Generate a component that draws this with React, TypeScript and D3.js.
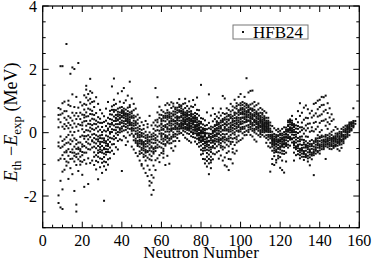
import React from "react";
import * as d3 from "d3";

// Each row: [neutron number, residuals (MeV)...]
const residualsN8to29: number[][] = [
  [8, 0.78, 0.56, -1.98, -2.22, -0.87, 0.17, -0.43],
  [9, 0.74, -1.52, -2.36, -0.48, 0.33, 2.1, -0.12],
  [10, 2.1, -2.41, -1.79, -1.23, 0.61, -0.26, 0.93, -0.71],
  [11, 0.47, -0.83, 0.12, -1.17, 0.98, -0.38, -0.62, 0.27],
  [12, 2.8, 0.21, -0.33, -0.91, 0.68, -1.04, 0.41, -0.57],
  [13, 0.88, -0.07, -0.52, 0.14, -0.73, 1.01, -1.46, 0.31, -0.94],
  [14, 1.86, -0.22, 0.03, -0.61, 0.47, -1.12, 0.84, -0.36],
  [15, 2.06, 1.21, -0.27, 0.16, -0.82, -0.53, 0.63, -1.31, -0.08],
  [16, 2.01, 0.54, -0.63, -0.44, 0.02, -1.84, 0.29, -0.91, -0.18],
  [17, -2.49, -2.27, 0.62, -0.68, -0.51, 0.19, -1.02, 1.13, -0.23, -0.77],
  [18, 2.2, 0.79, -0.66, -0.31, -1.21, 0.52, 0.06, -0.84, -0.47],
  [19, -0.52, -0.76, 0.43, 0.96, -0.13, -1.01, 0.24, -0.58, -0.9],
  [20, -0.09, 0.32, -0.92, 0.86, -0.61, 0.11, 0.57, -1.33, -0.37],
  [21, 1.18, 0.73, -0.19, 0.36, -1.71, -0.42, 0.02, 0.91, -0.86, 0.48],
  [22, 1.48, 1.36, 0.88, 0.51, -0.29, 0.22, -0.98, 0.64, -0.11, -0.63, 1.11],
  [23, 1.22, 0.76, 0.28, -0.52, 0.07, -1.62, 1.02, -0.21, -0.34],
  [24, 1.7, 1.31, 0.92, 0.38, 0.16, -0.37, -0.14, 0.59, -0.96, 1.07, 0.04],
  [25, 1.26, 0.69, 0.24, -0.06, -0.47, 0.44, -0.88, 0.97, -0.27],
  [26, 0.99, 0.56, 0.09, -0.31, -0.62, 0.28, -0.17, 0.81, -1.02, -0.44],
  [27, 1.12, 0.38, -0.21, -0.49, 0.14, -0.71, 0.62, -1.16, -0.08],
  [28, 0.91, 0.19, -0.12, -0.42, -0.76, 0.49, -0.93, -0.56, 0.04, -1.47, -0.27],
  [29, 0.72, 0.31, -0.29, -0.61, -0.81, 0.09, -0.46, -1.09, 0.44, -0.17],
];

const residualsN30to57: number[][] = [
  [30, -0.83, -0.42, 0.61, -0.07, -0.29, -1.27, 0.18, -0.56, -0.95, 0.02],
  [31, -2.15, 0.34, -0.18, -0.66, -0.77, 0.52, -0.31, -1.06, 0.07, -0.48],
  [32, 0.76, 0.21, -0.27, -0.41, -0.69, 0.38, -1.17, -0.09, -0.93, -0.52],
  [33, 0.47, 0.08, -0.36, -0.61, 0.29, -0.42, 0.97, -1.01, -0.22, -0.84],
  [34, 0.69, 0.27, -0.03, -0.47, 0.19, -0.81, 0.58, -0.29, -0.62],
  [35, 1.46, 0.83, 0.26, -0.18, 0.41, -0.57, 0.11, 0.72, -0.37],
  [36, 1.71, 1.04, 0.66, 0.23, -0.11, 0.09, -0.36, 0.51, -0.67, 0.87],
  [37, 0.91, 0.44, 0.17, -0.17, 0.37, 0.71, -0.02, -0.46, 0.56],
  [38, 1.24, 0.76, 0.39, 0.02, 0.27, -0.26, 0.52, -0.07, -0.53, 0.66],
  [39, 0.98, 0.64, 0.33, 0.14, 0.48, 0.01, -0.21, 0.79, 0.44],
  [40, 1.31, 0.81, 0.67, 0.49, 0.19, 0.53, 0.13, -0.24, 0.71, -1.21, 0.31],
  [41, 1.41, 0.94, 0.62, 0.54, 0.29, 0.07, 0.57, -0.11, 0.36, 0.76],
  [42, 1.02, 0.73, 0.51, 0.37, 0.09, 0.44, -0.16, 0.61, -0.39, 0.27],
  [43, 1.17, 0.79, 0.46, 0.22, 0.41, 0.01, 0.68, -0.28, 0.31, 0.53],
  [44, 1.61, 0.87, 0.64, 0.36, 0.24, 0.49, -0.08, 0.27, 0.81, 0.42],
  [45, 1.08, 0.67, 0.47, 0.16, -0.03, 0.31, -0.44, 0.12, 0.61],
  [46, 0.91, 0.54, 0.22, 0.07, -0.24, 0.38, -0.53, 0.13, -0.09, 0.71],
  [47, 0.76, 0.36, 0.14, -0.19, -0.32, 0.24, -0.04, -0.64, 0.51],
  [48, 0.57, 0.29, -0.02, -0.26, -0.42, 0.07, -0.14, -0.74, -0.33, 0.41],
  [49, 0.47, 0.12, -0.07, -0.34, -0.59, 0.02, -0.22, -0.88, -0.44, -0.67],
  [50, 0.33, 0.09, -0.24, -0.37, -0.64, -0.27, -0.01, -0.99, -0.12, -1.04, -0.48],
  [51, 0.24, -0.03, -0.29, -0.42, -0.69, -0.31, 0.12, -1.13, -0.77, -0.56],
  [52, 0.37, 0.03, -0.26, -0.54, -0.73, -0.17, -0.44, -0.88, -1.27, -0.63],
  [53, 0.17, -0.14, -0.33, -0.58, -0.79, -0.21, -1.04, -1.37, 0.27, -0.61],
  [54, 0.53, 0.01, -0.24, -0.49, -0.56, -0.84, -1.17, -1.53, -0.28, -1.67],
  [55, 0.23, -0.06, -0.31, -0.59, -0.87, -1.34, -1.58, -1.96, -0.74, -0.43],
  [56, 0.32, -0.02, -0.21, -0.49, -0.66, -1.04, -1.42, -1.81, -0.11, -0.61],
  [57, 1.41, 0.39, 0.06, -0.17, -0.44, -0.58, -0.87, -1.18, 0.23, -0.32],
];

const residualsN58to86: number[][] = [
  [58, 1.12, 0.41, 0.33, -0.12, -0.38, -0.47, -0.81, 0.19, -0.24, 0.08, 0.64],
  [59, 0.82, 0.57, 0.06, -0.03, -0.29, -0.71, 0.22, 0.47, -0.93, -0.44],
  [60, 0.71, 0.43, 0.16, -0.21, -0.33, -0.64, 0.29, -0.13, 0.56, -0.02, 0.09],
  [61, 0.66, 0.12, -0.04, -0.19, -0.51, 0.21, -0.36, -0.79, 0.38, -0.58, 0.47],
  [62, 0.87, 0.53, 0.24, -0.08, -0.22, 0.36, -0.41, 0.61, -1.02, -0.14, 0.03],
  [63, 0.63, 0.49, 0.17, -0.11, -0.31, 0.42, -0.28, 0.71, -0.73, 0.04, 0.93],
  [64, 0.88, 0.47, 0.36, 0.23, -0.18, 0.52, -0.34, 0.64, -0.98, 0.11, -0.06],
  [65, 0.96, 0.51, 0.29, 0.06, -0.13, 0.44, -0.19, 0.78, -0.49, 0.37, 0.14],
  [66, 0.92, 0.67, 0.54, 0.12, -0.07, 0.41, -0.27, 0.83, -0.57, 0.26, 0.01],
  [67, 0.79, 0.66, 0.37, 0.29, -0.04, 0.58, -0.12, 0.21, -0.43, 0.74, 0.11],
  [68, 0.94, 0.63, 0.44, 0.39, 0.04, 0.71, -0.17, 0.31, -0.06, 0.16, 0.52],
  [69, 1.06, 0.81, 0.47, 0.27, 0.19, 0.66, -0.03, 0.38, -0.26, 0.12, 0.88],
  [70, 0.86, 0.77, 0.61, 0.31, 0.27, 0.69, -0.01, 0.21, 0.49, 0.84, 0.14],
  [71, 0.91, 0.59, 0.54, 0.28, 0.13, 0.62, 0.17, 0.36, -0.07, 0.46, 0.24, 0.73],
  [72, 1.07, 0.78, 0.49, 0.42, 0.31, 0.56, 0.03, 0.37, -0.16, 0.18, 0.64, 0.93],
  [73, 0.84, 0.53, 0.51, 0.23, 0.14, 0.58, -0.02, 0.42, -0.21, 0.27, 0.69, 0.09],
  [74, 0.99, 0.66, 0.47, 0.33, 0.12, 0.39, -0.04, 0.24, -0.26, 0.29, 0.07, 0.76],
  [75, 0.83, 0.61, 0.43, 0.19, 0.04, 0.51, -0.11, 0.36, -0.31, 0.13, 0.68, 0.21],
  [76, 1.03, 0.58, 0.39, 0.37, 0.09, 0.32, -0.14, 0.26, 0.01, 0.49, 0.81],
  [77, 0.88, 0.44, 0.38, 0.16, 0.11, 0.34, -0.16, 0.06, -0.28, 0.47, 0.62],
  [78, 1.11, 0.59, 0.26, 0.19, -0.04, 0.21, -0.19, 0.09, -0.36, 0.41, 0.72, 0.47],
  [79, 0.71, 0.29, 0.24, -0.01, -0.09, 0.12, -0.31, -0.06, -0.44, 0.54, 0.17],
  [80, 1.51, 0.46, 0.29, 0.06, -0.11, 0.02, -0.24, -0.29, -0.54, 0.34, -0.16, -0.69],
  [81, 0.44, 0.14, 0.09, -0.16, -0.21, -0.02, -0.36, -0.49, -0.66, 0.26, -0.83],
  [82, 0.39, 0.22, -0.01, -0.09, -0.29, -0.12, -0.41, -0.56, -0.84, -0.97, 0.07, -0.21],
  [83, 0.64, 0.24, 0.11, -0.16, -0.19, -0.27, -0.54, -0.64, -0.89, -1.07, -0.43],
  [84, 1.21, 0.31, 0.14, -0.09, -0.14, -0.39, -0.56, -0.83, -0.97, -1.31, -0.26],
  [85, 0.54, 0.19, 0.11, -0.13, -0.24, -0.46, -0.61, -0.94, -1.12, -0.76, -0.04],
  [86, 0.77, 0.36, 0.04, -0.01, -0.24, -0.31, -0.66, -0.09, -0.47, 0.17, -0.84],
];

const residualsN87to115: number[][] = [
  [87, 0.59, 0.24, 0.12, 0.03, -0.19, -0.34, 0.08, -0.49, -0.26, 0.43, -0.68],
  [88, 0.36, 0.27, 0.07, -0.04, -0.11, -0.28, 0.14, -0.43, 0.24, -0.62, 0.51],
  [89, 0.64, 0.31, 0.19, -0.02, -0.16, -0.23, 0.06, -0.37, -0.58, 0.46, -0.82],
  [90, 0.76, 0.38, 0.22, 0.13, -0.08, -0.19, 0.17, -0.33, -0.72, 0.54, -0.47],
  [91, 1.16, 0.43, 0.34, 0.09, -0.04, -0.14, 0.24, -0.27, -0.53, -0.88, 0.62],
  [92, 1.08, 0.59, 0.29, 0.18, 0.07, -0.06, 0.27, -0.22, -0.47, -0.78, 0.41, -1.03],
  [93, 0.77, 0.51, 0.26, 0.11, -0.04, -0.19, 0.23, -0.38, -0.64, -1.07, 0.61],
  [94, 0.72, 0.53, 0.39, 0.16, 0.03, -0.12, 0.28, -0.27, -0.59, -1.18, 0.56, -0.83],
  [95, 0.91, 0.57, 0.49, 0.46, 0.18, 0.11, -0.07, -0.29, -0.36, -0.84, 0.31],
  [96, 0.83, 0.71, 0.38, 0.26, 0.24, -0.02, -0.19, -0.51, -0.62, 0.15, 0.44, -0.97],
  [97, 1.04, 0.63, 0.56, 0.29, 0.21, 0.01, 0.46, -0.17, -0.39, -0.66, 0.79],
  [98, 0.93, 0.76, 0.49, 0.44, 0.19, 0.14, 0.38, -0.13, -0.31, -0.57, 0.84, 0.27],
  [99, 1.13, 0.69, 0.64, 0.39, 0.33, 0.07, 0.56, -0.09, -0.27, 0.88, 0.18],
  [100, 1.22, 0.86, 0.72, 0.47, 0.34, 0.16, 0.59, 0.04, -0.23, 0.77, 0.93, 0.28],
  [101, 0.97, 0.88, 0.62, 0.58, 0.36, 0.29, 0.66, -0.02, -0.18, 0.78, 0.47],
  [102, 1.13, 0.93, 0.74, 0.49, 0.43, 0.19, 0.61, 0.13, -0.08, 0.83, 0.33],
  [103, 1.72, 0.91, 0.79, 0.57, 0.42, 0.34, 0.68, 0.06, -0.07, 0.87, 0.52],
  [104, 1.27, 0.86, 0.71, 0.64, 0.49, 0.24, 0.66, 0.17, 0.02, 0.81, 0.38],
  [105, 1.32, 0.89, 0.74, 0.51, 0.37, 0.27, 0.57, 0.11, -0.07, 0.77, 0.46],
  [106, 1.33, 0.76, 0.69, 0.53, 0.31, 0.22, 0.58, 0.06, -0.12, 0.43, 0.92],
  [107, 0.97, 0.72, 0.63, 0.41, 0.33, 0.12, 0.52, 0.01, -0.22, 0.37, 0.83],
  [108, 0.87, 0.67, 0.58, 0.39, 0.27, 0.11, 0.46, -0.03, -0.28, 0.32, 0.18],
  [109, 0.92, 0.61, 0.53, 0.34, 0.22, 0.06, 0.42, -0.08, 0.28, 0.17, 0.73],
  [110, 0.78, 0.63, 0.43, 0.31, 0.17, 0.02, 0.37, 0.23, -0.13, 0.08, 0.53],
  [111, 0.73, 0.57, 0.41, 0.28, 0.21, 0.08, 0.33, -0.07, 0.26, 0.13, 0.48],
  [112, 0.68, 0.52, 0.38, 0.32, 0.18, 0.06, 0.28, -0.12, 0.13, 0.22, 0.43],
  [113, 0.63, 0.47, 0.33, 0.27, 0.13, 0.03, 0.31, -0.17, -0.32, 0.18, 0.08],
  [114, 0.47, 0.33, 0.27, 0.13, 0.07, -0.07, 0.22, -0.22, -0.43, 0.12, 0.38],
  [115, 0.32, 0.13, 0.07, -0.12, -0.18, -0.32, 0.02, -0.47, -1.23, -0.07, 0.23],
];

const residualsN116to158: number[][] = [
  [116, 0.21, 0.03, -0.13, -0.17, -0.34, -0.38, -0.09, -0.57, -0.83, -0.99, -0.24],
  [117, 0.14, -0.04, -0.19, -0.23, -0.31, -0.49, -0.56, -0.74, -1.02, -0.27],
  [118, 0.08, -0.13, -0.16, -0.34, -0.37, -0.53, -0.61, -0.86, -0.94, -0.22],
  [119, 0.03, -0.11, -0.29, -0.31, -0.48, -0.51, -0.73, 0.12, -0.81, -0.26],
  [120, 0.06, -0.07, -0.23, -0.27, -0.43, -0.47, -0.63, -0.77, -1.11, -0.34],
  [121, 0.12, -0.03, -0.17, -0.22, -0.36, -0.44, -0.57, -0.88, -1.18, -0.19],
  [122, 0.02, -0.14, -0.16, -0.33, -0.37, -0.58, -0.67, -1.26, 0.17, -0.26],
  [123, 0.16, 0.04, -0.13, -0.16, -0.33, -0.42, -0.63, -0.91, -0.06],
  [124, 0.33, 0.11, 0.03, -0.14, -0.17, -0.38, -0.47, 0.38, 0.21],
  [125, 0.42, 0.33, 0.17, 0.08, -0.13, -0.22, 0.12, -0.41, 0.26],
  [126, 0.53, 0.31, 0.23, 0.07, 0.02, -0.18, 0.27, -0.31, 0.14],
  [127, 0.27, 0.18, 0.02, -0.07, -0.28, -0.39, 0.21, -0.63, -0.88],
  [128, 0.23, 0.02, -0.13, -0.22, -0.43, -0.52, 0.43, -0.71],
  [129, 0.68, 0.33, -0.01, -0.17, -0.38, -0.49, -0.68, 0.12],
  [130, 0.93, 0.53, 0.17, -0.13, -0.27, -0.51, -0.62, -0.81, 0.03],
  [131, 0.63, 0.32, 0.08, -0.22, -0.48, -0.57, -0.76, 0.17],
  [132, 0.79, 0.41, 0.13, -0.23, -0.37, -0.58, -0.67, -0.86, -0.03],
  [133, 0.86, 0.47, 0.23, -0.12, -0.38, -0.47, -0.68, -0.77, 0.07],
  [134, 0.74, 0.46, 0.14, -0.13, -0.41, -0.52, -0.73, -0.91, 0.28],
  [135, 0.61, 0.29, 0.03, -0.27, -0.53, -0.62, -0.78, -1.03],
  [136, 0.69, 0.48, 0.17, -0.23, -0.42, -0.63, -0.72, 0.06],
  [137, 0.91, 0.54, 0.31, 0.04, -0.33, -0.53, -0.64, -1.34],
  [138, 0.94, 0.61, 0.34, 0.11, -0.29, -0.46, -0.57, -0.18],
  [139, 1.01, 0.74, 0.51, 0.19, -0.26, -0.39, -0.58, -0.08],
  [140, 1.04, 0.81, 0.54, 0.31, -0.17, -0.37, -0.48, 0.02, -0.66],
  [141, 1.13, 0.87, 0.58, 0.37, -0.14, -0.31, -0.44, 0.08],
  [142, 1.12, 0.88, 0.67, 0.38, -0.22, -0.29, -0.42, -0.52],
  [143, 1.17, 0.72, 0.42, 0.22, -0.13, -0.27, -0.37, -0.83],
  [144, 0.93, 0.62, 0.33, -0.08, -0.22, -0.28, -0.38, 0.12],
  [145, 0.77, 0.48, 0.27, -0.03, -0.18, -0.32, -0.43],
  [146, 0.58, 0.37, 0.03, -0.17, -0.23, -0.36, -0.52],
  [147, 0.42, 0.08, -0.12, -0.19, -0.28, -0.41, -0.48],
  [148, 0.18, -0.03, -0.17, -0.23, -0.37, -0.43],
  [149, 0.12, -0.07, -0.13, -0.27, -0.33, -0.52],
  [150, 0.03, -0.03, -0.17, -0.23, -0.38, -0.57],
  [151, 0.12, 0.02, -0.08, -0.22, -0.28, -0.48],
  [152, 0.17, 0.03, -0.07, -0.13, -0.27, -0.33],
  [153, 0.22, 0.08, 0.02, -0.12, -0.18],
  [154, 0.23, 0.17, 0.03, -0.07, -0.13],
  [155, 0.32, 0.18, 0.12, 0.02, -0.08],
  [156, 0.33, 0.27, 0.13, 0.07],
  [157, 0.77, 0.37, 0.23, 0.17],
  [158, 0.37, 0.28],
];

// Additional nuclei in the densest parts of the cloud
const moreResidualsN8to57: number[][] = [
  [8, -0.31, 0.42], [9, -0.82, 0.57], [10, -0.44, 0.19], [11, -0.21, 0.68],
  [12, -0.62, -0.14], [13, -0.31, 0.52], [14, -0.83, 0.24], [15, -0.63, 0.38],
  [16, -0.73, 0.81], [17, -0.36, 0.43], [18, -0.52, 0.27], [19, -0.31, 0.63],
  [20, 0.23, -0.44, -0.71], [21, -0.11, 0.56, -0.63], [22, 0.08, -0.47, 0.37],
  [23, 0.52, -0.08, -0.81], [24, 0.27, -0.53, 0.73], [25, 0.12, -0.24, 0.58],
  [26, -0.04, 0.42, -0.76], [27, 0.27, -0.34, -0.89], [28, -0.21, 0.33, -0.64],
  [29, -0.09, -0.53, -0.36], [30, -0.18, -0.63, 0.31], [31, -0.24, -0.52, -0.91],
  [32, 0.04, -0.33, -0.61], [33, -0.12, -0.53, 0.13], [34, 0.43, -0.16, 0.02],
  [35, 0.31, 0.02, 0.57], [36, 0.37, 0.72, -0.21], [37, 0.27, 0.08, 0.47],
  [38, 0.58, 0.17, 0.42], [39, 0.56, 0.27, 0.09], [40, 0.38, 0.62, 0.04],
  [41, 0.47, 0.21, 0.68], [42, 0.39, 0.57, 0.18], [43, 0.36, 0.14, 0.59],
  [44, 0.31, 0.57, 0.12], [45, 0.24, 0.52, 0.06], [46, 0.29, -0.13, 0.47],
  [47, 0.04, -0.26, 0.31], [48, -0.08, 0.16, -0.37], [49, -0.27, -0.14, 0.21],
  [50, -0.33, -0.08, -0.54], [51, -0.36, -0.13, -0.49], [52, -0.36, -0.09, -0.59],
  [53, -0.43, -0.27, -0.07], [54, -0.37, -0.13, -0.69], [55, -0.21, -0.47, -0.13],
  [56, -0.33, -0.53, 0.12], [57, -0.07, -0.24, -0.49],
];

const moreResidualsN60to157: number[][] = [
  [60, -0.47, 0.37, -0.08, 0.26], [61, 0.09, -0.27, 0.53, -0.66], [62, 0.18, -0.36, 0.47, -0.12],
  [63, 0.27, -0.17, 0.12, 0.54], [64, 0.03, 0.31, -0.24, 0.58], [65, 0.22, 0.61, -0.33, 0.09],
  [66, 0.36, 0.14, 0.58, -0.13], [67, 0.48, 0.17, -0.26, 0.36], [68, 0.26, 0.49, 0.12, 0.79],
  [69, 0.49, 0.21, 0.71, 0.04], [70, 0.38, 0.53, 0.14, 0.67], [71, 0.41, 0.06, 0.67, 0.29],
  [72, 0.27, 0.58, 0.12, 0.34], [73, 0.36, 0.62, 0.17, 0.44], [74, 0.56, 0.18, 0.44, 0.13],
  [75, 0.29, 0.56, 0.02, 0.38], [76, 0.17, 0.46, -0.04, 0.27], [77, 0.24, -0.02, 0.53, 0.19],
  [78, 0.03, 0.33, -0.09, 0.13], [79, 0.08, -0.17, 0.36, -0.23], [80, -0.03, 0.17, -0.41, 0.07],
  [81, -0.26, 0.02, -0.12, -0.57], [82, -0.33, -0.04, -0.48, 0.12], [83, -0.37, -0.02, -0.31, -0.76],
  [84, -0.28, -0.47, -0.03, -0.69], [85, -0.18, -0.53, -0.32, -0.87], [86, -0.14, -0.42, 0.06, -0.27],
  [87, -0.07, 0.21, -0.36, -0.11], [88, -0.21, 0.13, -0.02, 0.34], [89, -0.04, 0.26, -0.29, 0.13],
  [90, 0.03, -0.23, 0.32, -0.41], [91, 0.07, -0.19, 0.38, -0.44], [92, 0.13, -0.31, 0.47, -0.14],
  [93, 0.07, 0.34, -0.24, 0.42], [94, 0.09, -0.19, 0.42, -0.43], [95, 0.23, 0.04, 0.67, -0.16],
  [96, 0.07, 0.34, 0.52, -0.29], [97, 0.12, 0.37, 0.63, -0.06], [98, 0.31, 0.06, 0.61, -0.21],
  [99, 0.24, 0.47, 0.03, 0.71], [100, 0.42, 0.27, 0.63, 0.11], [101, 0.48, 0.18, 0.73, 0.12],
  [102, 0.57, 0.33, 0.68, 0.02], [103, 0.49, 0.22, 0.63, 0.37], [104, 0.56, 0.38, 0.09, 0.73],
  [105, 0.44, 0.18, 0.62, 0.33], [106, 0.47, 0.26, 0.71, 0.13], [107, 0.38, 0.56, 0.24, 0.07],
  [108, 0.33, 0.51, 0.17, 0.62], [109, 0.27, 0.46, 0.13, 0.57], [110, 0.21, 0.49, 0.38, -0.04],
  [111, 0.17, 0.36, 0.02, 0.62], [112, 0.24, 0.11, 0.46, 0.01], [113, 0.21, 0.06, 0.38, -0.08],
  [114, 0.02, 0.18, -0.13, 0.29], [116, -0.22, -0.06, -0.44, -0.29], [117, -0.36, -0.12, -0.41, -0.63],
  [118, -0.27, -0.44, -0.07, -0.58], [119, -0.39, -0.21, -0.62, -0.08], [120, -0.26, -0.16, -0.53, -0.03],
  [121, -0.29, -0.41, -0.09, -0.66], [122, -0.22, -0.46, -0.06, -0.36], [123, -0.24, -0.03, -0.37, 0.09],
  [124, -0.07, 0.07, -0.27, 0.24], [125, 0.01, 0.14, -0.17, 0.37], [126, 0.13, -0.06, 0.38, -0.21],
  [127, -0.16, 0.09, -0.33, -0.47], [128, -0.31, -0.06, -0.47, 0.13], [129, -0.27, -0.42, -0.58, 0.21],
  [130, -0.37, -0.56, -0.71, -0.21], [131, -0.39, -0.66, -0.53, -0.12], [132, -0.47, -0.62, -0.31, -0.76],
  [133, -0.57, -0.42, -0.73, -0.27], [134, -0.62, -0.46, -0.81, -0.33], [135, -0.43, -0.58, -0.69, -0.36],
  [136, -0.51, -0.36, -0.68, -0.84], [137, -0.44, -0.59, -0.27, -0.71], [138, -0.38, -0.52, -0.66, -0.23],
  [139, -0.33, -0.47, -0.62, -0.18], [140, -0.27, -0.42, -0.56, -0.13], [141, -0.24, -0.38, -0.52, -0.09],
  [142, -0.26, -0.36, -0.47, -0.12], [143, -0.21, -0.31, -0.43, -0.07], [144, -0.17, -0.34, -0.46, -0.26],
  [145, -0.24, -0.38, -0.12, -0.51], [146, -0.29, -0.42, -0.07, -0.19], [147, -0.24, -0.34, -0.43, -0.16],
  [148, -0.29, -0.19, -0.39, -0.11], [149, -0.21, -0.29, -0.41, -0.02], [150, -0.19, -0.29, -0.11, -0.33],
  [151, -0.13, -0.24, -0.04, -0.37], [152, -0.09, -0.19, 0.09, -0.21], [153, 0.04, -0.06, 0.13, -0.14],
  [154, 0.09, -0.01, 0.19, 0.12], [155, 0.14, 0.24, 0.06, 0.27], [156, 0.21, 0.29, 0.09, 0.31],
  [157, 0.29, 0.21, 0.31],
];

const xMajorTicks = [0, 20, 40, 60, 80, 100, 120, 140, 160];
const yMajorTicks = [-2, 0, 2, 4];
const seriesName = "HFB24";

const W = 374;
const H = 260;
const TXT = { fontFamily: '"Liberation Serif"' };

export default function App() {
  const x = d3.scaleLinear().domain([0, 160]).range([42.7, 359.3]);
  const y = d3.scaleLinear().domain([-3, 4]).range([227.7, 6]);

  const rows = [
    ...residualsN8to29,
    ...residualsN30to57,
    ...residualsN58to86,
    ...residualsN87to115,
    ...residualsN116to158,
    ...moreResidualsN8to57,
    ...moreResidualsN60to157,
  ];
  const points: [number, number][] = [];
  rows.forEach((r) => {
    for (let i = 1; i < r.length; i++) points.push([r[0], r[i]]);
  });

  const xMinor = d3.range(0, 161, 5).filter((v) => v % 20 !== 0);
  const yMinor = d3.range(-3, 4.01, 0.5).filter((v) => Math.abs(v % 2) > 1e-9);

  const [x0, x1] = x.range();
  const [yb, yt] = y.range();
  const maj = 6;
  const mnr = 3;

  return (
    <svg width={W} height={H} style={{ position: "absolute", left: 0, top: 0, background: "#fff" }}>
      <rect x={0} y={0} width={W} height={H} fill="#fff" />
      <g fill="#111">
        {points.map(([n, v], i) => (
          <rect key={i} x={x(n) - 1} y={y(v) - 1} width={2} height={2} />
        ))}
      </g>
      <rect x={x0} y={yt} width={x1 - x0} height={yb - yt} fill="none" stroke="#000" strokeWidth={1.2} />
      <g stroke="#000" strokeWidth={1}>
        {xMajorTicks.map((t) => (
          <g key={"xm" + t}>
            <line x1={x(t)} x2={x(t)} y1={yb} y2={yb - maj} />
            <line x1={x(t)} x2={x(t)} y1={yt} y2={yt + maj} />
          </g>
        ))}
        {xMinor.map((t) => (
          <g key={"xn" + t}>
            <line x1={x(t)} x2={x(t)} y1={yb} y2={yb - mnr} />
            <line x1={x(t)} x2={x(t)} y1={yt} y2={yt + mnr} />
          </g>
        ))}
        {yMajorTicks.map((t) => (
          <g key={"ym" + t}>
            <line x1={x0} x2={x0 + maj} y1={y(t)} y2={y(t)} />
            <line x1={x1} x2={x1 - maj} y1={y(t)} y2={y(t)} />
          </g>
        ))}
        {yMinor.map((t) => (
          <g key={"yn" + t}>
            <line x1={x0} x2={x0 + mnr} y1={y(t)} y2={y(t)} />
            <line x1={x1} x2={x1 - mnr} y1={y(t)} y2={y(t)} />
          </g>
        ))}
      </g>
      {xMajorTicks.map((t) => (
        <text key={"xl" + t} x={x(t)} y={246} fontSize={16} textAnchor="middle" fill="#000" style={TXT}>
          {t}
        </text>
      ))}
      {yMajorTicks.map((t) => (
        <text key={"yl" + t} x={37} y={y(t) + 5.5} fontSize={16} textAnchor="end" fill="#000" style={TXT}>
          {t}
        </text>
      ))}
      <text x={(x0 + x1) / 2} y={258} fontSize={17} textAnchor="middle" fill="#000" style={TXT}>
        Neutron Number
      </text>
      <text transform="translate(17,122) rotate(-90)" fontSize={18} textAnchor="middle" fill="#000" style={TXT}>
        <tspan fontStyle="italic">E</tspan>
        <tspan fontSize={13} dy={4}>th</tspan>
        <tspan dy={-4}> −</tspan>
        <tspan fontStyle="italic">E</tspan>
        <tspan fontSize={13} dy={4}>exp</tspan>
        <tspan dy={-4}> (MeV)</tspan>
      </text>
      <rect x={233} y={25} width={75} height={14} fill="#fff" stroke="#777" strokeWidth={1} />
      <rect x={242} y={31} width={2} height={2} fill="#111" />
      <text x={253} y={37.5} fontSize={17} fill="#000" style={TXT}>
        {seriesName}
      </text>
    </svg>
  );
}
